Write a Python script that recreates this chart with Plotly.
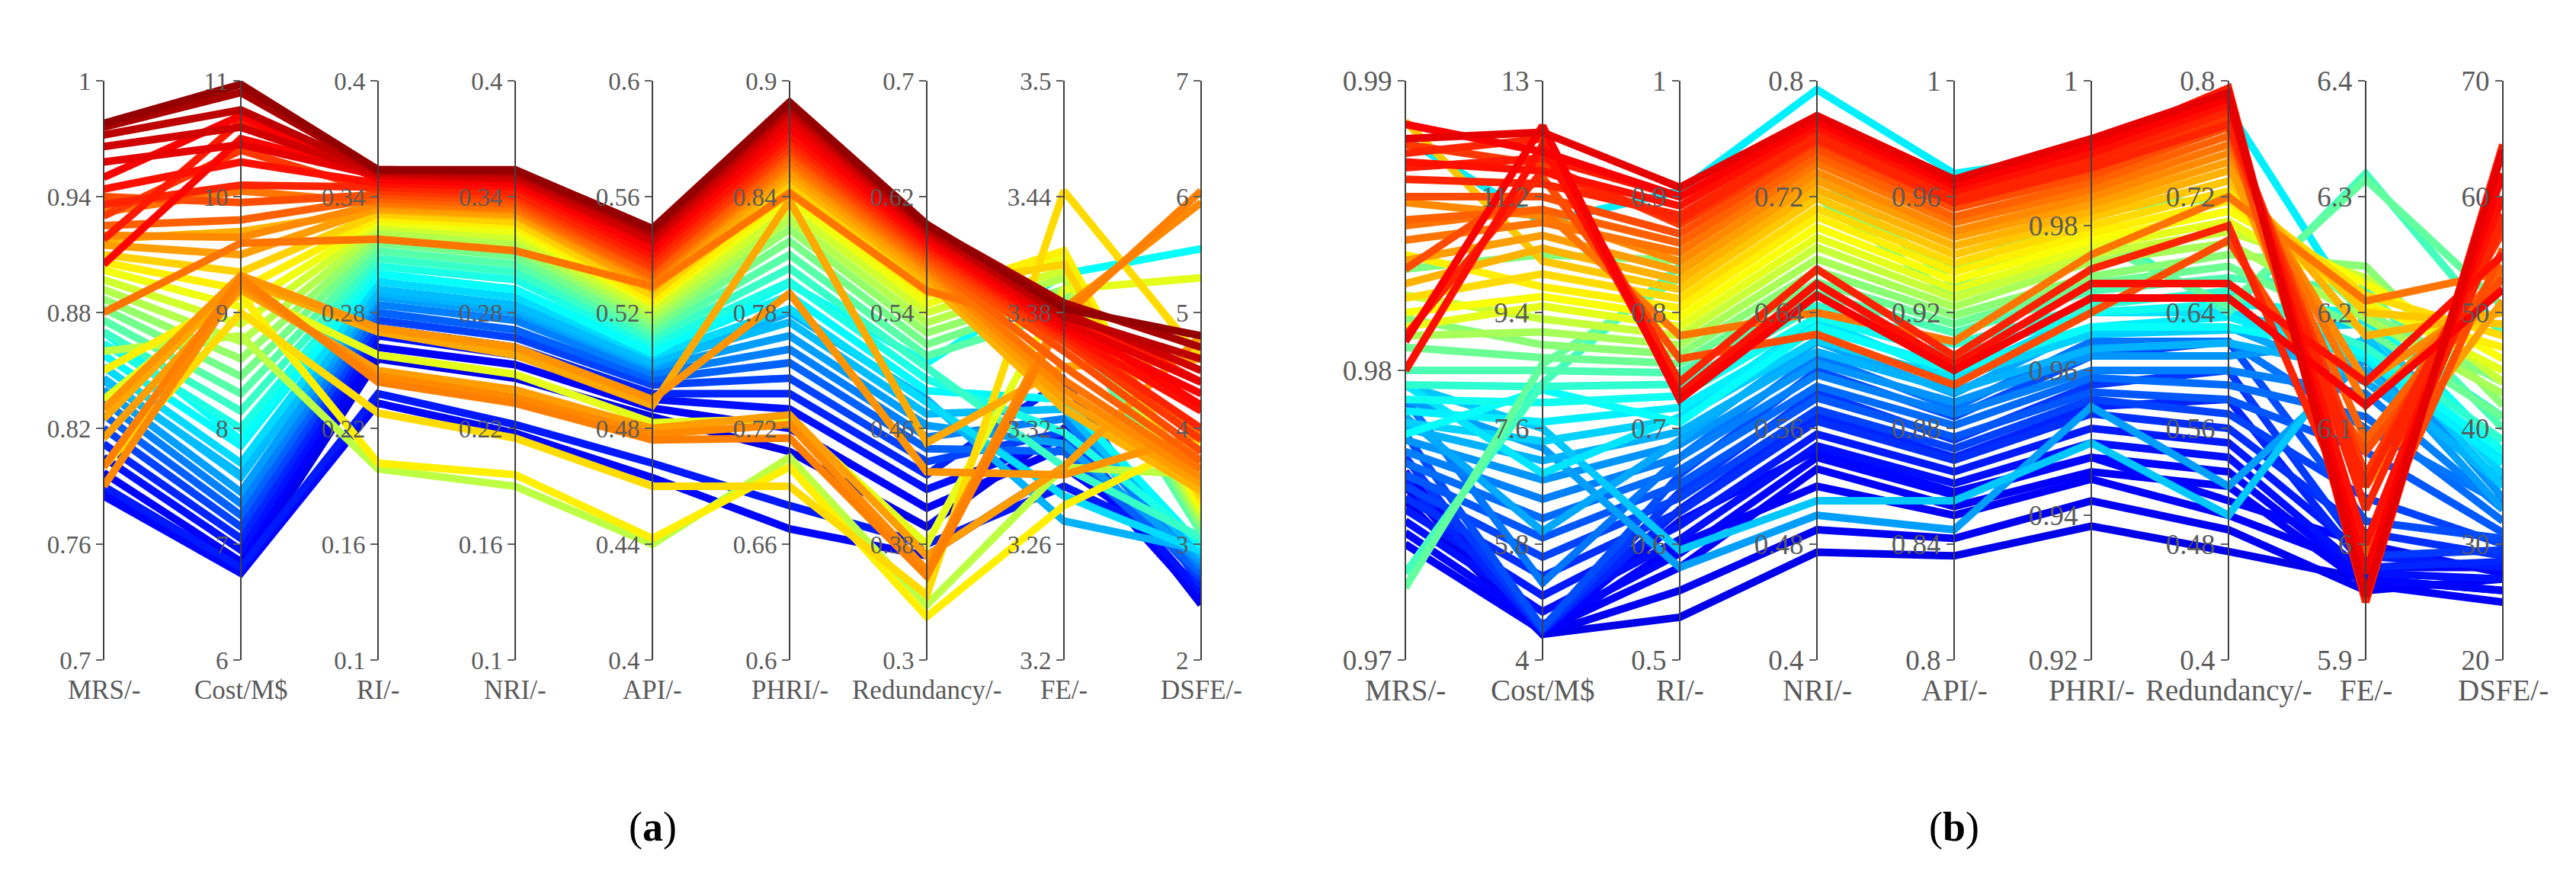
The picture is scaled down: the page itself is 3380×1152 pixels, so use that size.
import plotly.graph_objects as go
from plotly.colors import sample_colorscale

# ============================================================
# Parallel coordinates of the solution sets, panels (a) and (b)
# ============================================================

W, H = 3380, 1152

dims = ["MRS/-", "Cost/M$", "RI/-", "NRI/-", "API/-", "PHRI/-",
        "Redundancy/-", "FE/-", "DSFE/-"]

# ---------- panel (a): axis ranges and tick labels ----------
a_lo = [0.7, 6, 0.1, 0.1, 0.4, 0.6, 0.3, 3.2, 2]
a_hi = [1.0, 11, 0.4, 0.4, 0.6, 0.9, 0.7, 3.5, 7]
a_ticks = [
    ["0.7", "0.76", "0.82", "0.88", "0.94", "1"],
    ["6", "7", "8", "9", "10", "11"],
    ["0.1", "0.16", "0.22", "0.28", "0.34", "0.4"],
    ["0.1", "0.16", "0.22", "0.28", "0.34", "0.4"],
    ["0.4", "0.44", "0.48", "0.52", "0.56", "0.6"],
    ["0.6", "0.66", "0.72", "0.78", "0.84", "0.9"],
    ["0.3", "0.38", "0.46", "0.54", "0.62", "0.7"],
    ["3.2", "3.26", "3.32", "3.38", "3.44", "3.5"],
    ["2", "3", "4", "5", "6", "7"],
]

# ---------- panel (a): lines (colour value + one value per axis) ----------
a_color = [0.98, 0.96, 0.94, 0.92, 0.90, 0.88, 0.86, 0.84, 0.82, 0.80, 0.78, 0.76,
           0.74, 0.72, 0.70, 0.67, 0.64, 0.61, 0.58, 0.55, 0.52, 0.49, 0.46, 0.43,
           0.40, 0.37, 0.34, 0.31, 0.28, 0.25, 0.22, 0.19, 0.16, 0.14, 0.12, 0.10,
           0.74, 0.75, 0.72, 0.73, 0.71, 0.66, 0.64, 0.56, 0.13, 0.15, 0.30, 0.38,
           0.60, 0.87, 0.85, 0.76]
a_mrs = [0.978, 0.976, 0.972, 0.966, 0.958, 0.950, 0.944, 0.936, 0.930, 0.940, 0.925, 0.932,
         0.920, 0.915, 0.918, 0.910, 0.906, 0.902, 0.897, 0.892, 0.887, 0.882, 0.876, 0.870,
         0.864, 0.858, 0.852, 0.846, 0.840, 0.834, 0.827, 0.820, 0.812, 0.805, 0.797, 0.787,
         0.790, 0.800, 0.815, 0.830, 0.825, 0.800, 0.850, 0.860, 0.785, 0.790, 0.845, 0.870,
         0.835, 0.905, 0.918, 0.880]
a_cost = [10.97, 10.90, 10.75, 10.60, 10.45, 10.70, 10.30, 10.10, 10.40, 9.95, 9.80, 10.05,
          9.65, 9.50, 9.70, 9.35, 9.20, 9.05, 8.90, 8.75, 8.60, 8.45, 8.30, 8.15,
          8.00, 7.85, 7.70, 7.58, 7.45, 7.35, 7.25, 7.15, 7.05, 6.95, 6.85, 6.78,
          9.25, 9.30, 9.20, 9.32, 9.28, 9.00, 9.15, 8.80, 6.75, 6.80, 7.60, 7.90,
          9.20, 10.50, 10.65, 9.60]
a_ri = [0.354, 0.354, 0.353, 0.352, 0.351, 0.349, 0.347, 0.345, 0.343, 0.341, 0.339, 0.337,
        0.336, 0.334, 0.333, 0.331, 0.329, 0.327, 0.325, 0.322, 0.319, 0.316, 0.312, 0.308,
        0.304, 0.300, 0.296, 0.292, 0.288, 0.284, 0.280, 0.276, 0.272, 0.268, 0.262, 0.256,
        0.247, 0.244, 0.250, 0.272, 0.270, 0.228, 0.202, 0.199, 0.233, 0.238, 0.290, 0.300,
        0.258, 0.352, 0.351, 0.318]
a_nri = [0.354, 0.353, 0.352, 0.350, 0.349, 0.347, 0.345, 0.342, 0.340, 0.338, 0.336, 0.334,
         0.333, 0.331, 0.330, 0.327, 0.325, 0.322, 0.319, 0.316, 0.313, 0.309, 0.305, 0.301,
         0.297, 0.292, 0.288, 0.284, 0.280, 0.276, 0.271, 0.267, 0.262, 0.258, 0.253, 0.246,
         0.236, 0.233, 0.240, 0.262, 0.258, 0.215, 0.196, 0.190, 0.2175, 0.222, 0.282, 0.292,
         0.248, 0.351, 0.350, 0.312]
a_api = [0.549, 0.548, 0.547, 0.545, 0.544, 0.542, 0.540, 0.538, 0.536, 0.535, 0.533, 0.532,
         0.531, 0.529, 0.528, 0.526, 0.524, 0.523, 0.521, 0.519, 0.517, 0.515, 0.513, 0.511,
         0.509, 0.507, 0.505, 0.503, 0.501, 0.499, 0.497, 0.495, 0.492, 0.490, 0.487, 0.484,
         0.478, 0.476, 0.480, 0.490, 0.488, 0.460, 0.442, 0.440, 0.463, 0.468, 0.502, 0.506,
         0.482, 0.546, 0.545, 0.529]
a_phri = [0.889, 0.888, 0.886, 0.884, 0.880, 0.876, 0.872, 0.869, 0.866, 0.864, 0.861, 0.858,
          0.856, 0.853, 0.850, 0.846, 0.842, 0.838, 0.833, 0.828, 0.823, 0.817, 0.810, 0.803,
          0.796, 0.789, 0.782, 0.775, 0.768, 0.761, 0.754, 0.746, 0.738, 0.730, 0.720, 0.708,
          0.722, 0.715, 0.727, 0.790, 0.838, 0.690, 0.700, 0.705, 0.668, 0.680, 0.780, 0.795,
          0.725, 0.882, 0.879, 0.842]
a_red = [0.601, 0.600, 0.598, 0.596, 0.594, 0.591, 0.588, 0.585, 0.582, 0.579, 0.576, 0.573,
         0.570, 0.566, 0.562, 0.557, 0.552, 0.546, 0.540, 0.533, 0.526, 0.518, 0.510, 0.502,
         0.494, 0.486, 0.478, 0.470, 0.462, 0.454, 0.446, 0.437, 0.428, 0.418, 0.405, 0.392,
         0.362, 0.358, 0.372, 0.430, 0.450, 0.345, 0.330, 0.338, 0.372, 0.380, 0.480, 0.505,
         0.380, 0.597, 0.594, 0.555]
a_fe = [3.382, 3.385, 3.378, 3.380, 3.375, 3.372, 3.370, 3.368, 3.365, 3.360, 3.352, 3.345,
        3.340, 3.335, 3.330, 3.405, 3.412, 3.408, 3.402, 3.398, 3.392, 3.388, 3.380, 3.300,
        3.318, 3.335, 3.285, 3.330, 3.312, 3.325, 3.308, 3.318, 3.345, 3.315, 3.310, 3.320,
        3.382, 3.378, 3.300, 3.296, 3.352, 3.443, 3.280, 3.300, 3.300, 3.290, 3.272, 3.400,
        3.392, 3.376, 3.380, 3.372]
a_dsfe = [4.80, 4.70, 4.60, 4.50, 4.40, 4.30, 4.15, 4.00, 3.90, 3.80, 3.72, 3.65,
          3.58, 3.52, 3.46, 3.40, 3.35, 3.30, 3.26, 3.22, 3.18, 3.14, 3.10, 3.06,
          3.02, 2.98, 2.94, 2.90, 2.85, 2.80, 2.75, 2.70, 2.64, 2.58, 2.52, 2.48,
          5.95, 6.05, 4.80, 3.95, 4.60, 4.60, 3.90, 3.60, 2.85, 2.95, 2.95, 5.55,
          5.30, 4.20, 4.40, 3.95]

# ---------- panel (b): axis ranges and tick labels ----------
b_lo = [0.97, 4, 0.5, 0.4, 0.8, 0.92, 0.4, 5.9, 20]
b_hi = [0.99, 13, 1.0, 0.8, 1.0, 1.0, 0.8, 6.4, 70]
b_tickvals = [
    [0.97, 0.98, 0.99],
    [4, 5.8, 7.6, 9.4, 11.2, 13],
    [0.5, 0.6, 0.7, 0.8, 0.9, 1.0],
    [0.4, 0.48, 0.56, 0.64, 0.72, 0.8],
    [0.8, 0.84, 0.88, 0.92, 0.96, 1.0],
    [0.92, 0.94, 0.96, 0.98, 1.0],
    [0.4, 0.48, 0.56, 0.64, 0.72, 0.8],
    [5.9, 6.0, 6.1, 6.2, 6.3, 6.4],
    [20, 30, 40, 50, 60, 70],
]
b_ticks = [
    ["0.97", "0.98", "0.99"],
    ["4", "5.8", "7.6", "9.4", "11.2", "13"],
    ["0.5", "0.6", "0.7", "0.8", "0.9", "1"],
    ["0.4", "0.48", "0.56", "0.64", "0.72", "0.8"],
    ["0.8", "0.84", "0.88", "0.92", "0.96", "1"],
    ["0.92", "0.94", "0.96", "0.98", "1"],
    ["0.4", "0.48", "0.56", "0.64", "0.72", "0.8"],
    ["5.9", "6", "6.1", "6.2", "6.3", "6.4"],
    ["20", "30", "40", "50", "60", "70"],
]

# ---------- panel (b): lines ----------
b_color = [0.90, 0.88, 0.86, 0.84, 0.82, 0.80, 0.78, 0.76, 0.74, 0.72, 0.70, 0.68,
           0.66, 0.64, 0.62, 0.60, 0.57, 0.54, 0.51, 0.48, 0.45, 0.42, 0.39, 0.36,
           0.33, 0.30, 0.27, 0.25, 0.23, 0.21, 0.19, 0.17, 0.15, 0.14, 0.13, 0.12,
           0.88, 0.86, 0.84, 0.80, 0.76, 0.44, 0.47, 0.36, 0.50, 0.28, 0.32, 0.10,
           0.11, 0.12, 0.13, 0.85, 0.84, 0.38,
           0.20, 0.18, 0.16, 0.24, 0.29, 0.35]
b_mrs = [0.9880, 0.9885, 0.9872, 0.9866, 0.9878, 0.9860, 0.9852, 0.9845, 0.9858, 0.9838, 0.9830, 0.9886,
         0.9825, 0.9840, 0.9820, 0.9815, 0.9826, 0.9812, 0.9818, 0.9808, 0.9800, 0.9795, 0.9790, 0.9786,
         0.9782, 0.9780, 0.9776, 0.9772, 0.9768, 0.9764, 0.9760, 0.9756, 0.9752, 0.9748, 0.9744, 0.9740,
         0.9810, 0.9800, 0.9875, 0.9835, 0.9850, 0.9730, 0.9725, 0.9880, 0.9835, 0.9790, 0.9795, 0.9755,
         0.9760, 0.9765, 0.9770, 0.9870, 0.9812, 0.9778,
         0.9778, 0.9770, 0.9762, 0.9790, 0.9784, 0.9795]
b_cost = [12.20, 11.90, 11.60, 11.40, 11.70, 11.20, 11.00, 10.80, 10.90, 10.60, 10.40, 10.20,
          10.00, 9.80, 9.65, 9.50, 9.30, 9.10, 8.90, 8.70, 8.50, 8.25, 8.00, 7.70,
          7.40, 7.10, 6.80, 6.50, 6.20, 5.90, 5.60, 5.30, 5.00, 4.75, 4.55, 4.45,
          12.30, 12.00, 12.10, 11.50, 11.00, 8.30, 8.60, 10.80, 10.30, 7.30, 7.60, 4.40,
          4.40, 4.42, 4.43, 11.80, 11.60, 8.20,
          4.50, 4.48, 4.46, 5.20, 6.00, 6.90]
b_ri = [0.908, 0.900, 0.892, 0.884, 0.876, 0.868, 0.860, 0.852, 0.844, 0.836, 0.828, 0.820,
        0.812, 0.804, 0.796, 0.788, 0.780, 0.772, 0.764, 0.756, 0.748, 0.738, 0.728, 0.718,
        0.708, 0.697, 0.686, 0.675, 0.664, 0.652, 0.640, 0.628, 0.616, 0.604, 0.592, 0.580,
        0.725, 0.730, 0.740, 0.760, 0.780, 0.840, 0.830, 0.905, 0.845, 0.580, 0.595, 0.537,
        0.560, 0.600, 0.620, 0.900, 0.880, 0.705,
        0.660, 0.645, 0.630, 0.675, 0.690, 0.710]
b_nri = [0.776, 0.772, 0.768, 0.763, 0.758, 0.753, 0.748, 0.743, 0.737, 0.731, 0.725, 0.719,
         0.712, 0.706, 0.699, 0.692, 0.685, 0.677, 0.669, 0.661, 0.653, 0.645, 0.637, 0.629,
         0.621, 0.613, 0.605, 0.597, 0.589, 0.581, 0.573, 0.565, 0.556, 0.548, 0.540, 0.532,
         0.652, 0.660, 0.670, 0.625, 0.640, 0.735, 0.720, 0.794, 0.720, 0.500, 0.510, 0.4745,
         0.490, 0.520, 0.545, 0.770, 0.760, 0.630,
         0.600, 0.585, 0.570, 0.610, 0.620, 0.635]
b_api = [0.966, 0.964, 0.962, 0.960, 0.958, 0.956, 0.953, 0.951, 0.948, 0.946, 0.943, 0.940,
         0.937, 0.934, 0.931, 0.928, 0.925, 0.922, 0.919, 0.916, 0.913, 0.909, 0.905, 0.901,
         0.897, 0.893, 0.889, 0.885, 0.881, 0.877, 0.873, 0.869, 0.865, 0.861, 0.857, 0.853,
         0.900, 0.902, 0.905, 0.895, 0.910, 0.930, 0.925, 0.968, 0.935, 0.845, 0.855, 0.836,
         0.842, 0.850, 0.858, 0.964, 0.958, 0.900,
         0.884, 0.876, 0.870, 0.887, 0.892, 0.898]
b_phri = [0.992, 0.991, 0.990, 0.989, 0.988, 0.987, 0.986, 0.985, 0.984, 0.983, 0.982, 0.981,
          0.980, 0.979, 0.978, 0.977, 0.976, 0.975, 0.973, 0.972, 0.971, 0.969, 0.968, 0.966,
          0.965, 0.963, 0.962, 0.960, 0.959, 0.957, 0.956, 0.954, 0.952, 0.950, 0.948, 0.946,
          0.970, 0.972, 0.974, 0.968, 0.976, 0.980, 0.978, 0.990, 0.982, 0.955, 0.950, 0.9385,
          0.942, 0.945, 0.948, 0.991, 0.988, 0.966,
          0.962, 0.958, 0.955, 0.964, 0.966, 0.968]
b_red = [0.792, 0.788, 0.784, 0.779, 0.774, 0.768, 0.762, 0.756, 0.750, 0.744, 0.738, 0.731,
         0.724, 0.717, 0.710, 0.703, 0.696, 0.688, 0.680, 0.672, 0.664, 0.655, 0.646, 0.637,
         0.628, 0.619, 0.610, 0.600, 0.590, 0.580, 0.570, 0.560, 0.550, 0.540, 0.530, 0.520,
         0.650, 0.660, 0.700, 0.690, 0.720, 0.640, 0.645, 0.780, 0.720, 0.520, 0.500, 0.475,
         0.490, 0.500, 0.510, 0.795, 0.770, 0.630,
         0.620, 0.600, 0.580, 0.620, 0.630, 0.640]
b_fe = [5.955, 5.975, 6.000, 6.030, 6.060, 5.990, 6.090, 6.120, 6.140, 6.050, 6.180, 6.200,
        6.215, 6.205, 6.225, 6.210, 6.230, 6.195, 6.240, 6.185, 6.220, 6.170, 6.200, 6.160,
        6.190, 6.150, 6.175, 6.130, 6.110, 6.080, 6.040, 6.010, 5.990, 5.975, 5.970, 5.965,
        6.120, 6.140, 6.000, 6.080, 6.210, 6.320, 6.315, 6.190, 6.200, 6.160, 6.180, 5.970,
        5.960, 5.980, 6.000, 5.950, 6.050, 6.165,
        6.020, 5.990, 5.980, 6.100, 6.140, 6.170]
b_dsfe = [64, 62, 60, 58.5, 57, 55.5, 54, 53, 52, 51, 50, 49,
          48, 47, 46, 45, 44, 43, 42, 41, 40, 39, 38, 37,
          36, 35, 34, 33, 32, 31, 30, 29, 28, 27, 26, 25,
          52, 55, 58, 53, 53.5, 48, 50.5, 41, 44, 33, 35, 26,
          27, 28, 27.5, 64.5, 58, 38,
          30.5, 29.5, 28.5, 33.5, 35.5, 37.5]

# jet colour map (MATLAB style)
JET = [[0.0, "rgb(0,0,143)"], [0.125, "rgb(0,0,255)"], [0.375, "rgb(0,255,255)"],
       [0.625, "rgb(255,255,0)"], [0.875, "rgb(255,0,0)"], [1.0, "rgb(128,0,0)"]]

LW = 10
FONT = "Liberation Serif"
GREY = "#5a5a5a"

# pixel x of each axis, and the plot's vertical extent
A_PX = [128, 308, 488, 668, 848, 1028, 1208, 1388, 1568]
B_PX = [1836, 2016, 2196, 2376, 2556, 2736, 2916, 3096, 3276]
Y_TOP, Y_BOT = 81, 869
ydom = [(H - Y_BOT) / H, (H - Y_TOP) / H]

panels = [
    dict(cols=[a_mrs, a_cost, a_ri, a_nri, a_api, a_phri, a_red, a_fe, a_dsfe],
         c=a_color, lo=a_lo, hi=a_hi, ticks=a_ticks, tickvals=None,
         xa="x", base="y", first=2, px=A_PX, fs=33, ts=35, tag="a"),
    dict(cols=[b_mrs, b_cost, b_ri, b_nri, b_api, b_phri, b_red, b_fe, b_dsfe],
         c=b_color, lo=b_lo, hi=b_hi, ticks=b_ticks, tickvals=b_tickvals,
         xa="x2", base="y11", first=12, px=B_PX, fs=37, ts=39, tag="b"),
]

fig = go.Figure()
axes = {}
notes = []

for p in panels:
    colors = sample_colorscale(JET, p["c"])
    order = sorted(range(len(p["c"])), key=lambda i: p["c"][i])
    for i in order:
        ys = [(p["cols"][k][i] - p["lo"][k]) / (p["hi"][k] - p["lo"][k]) for k in range(9)]
        fig.add_trace(go.Scatter(
            x=list(range(9)), y=ys, mode="lines",
            line=dict(color=colors[i], width=LW),
            xaxis=p["xa"], yaxis=p["base"], hoverinfo="skip", showlegend=False,
        ))

    # one visible axis per dimension, overlaid on the hidden 0..1 base axis
    for k in range(9):
        n = p["first"] + k
        if p["tickvals"] is None:
            step = (p["hi"][k] - p["lo"][k]) / 5
            tv = [p["lo"][k] + j * step for j in range(6)]
        else:
            tv = p["tickvals"][k]
        axes[f"yaxis{n}"] = dict(
            overlaying=p["base"], anchor="free", position=p["px"][k] / W, side="left",
            range=[p["lo"][k], p["hi"][k]], tickmode="array", tickvals=tv, ticktext=p["ticks"][k],
            showline=True, linecolor="#404040", linewidth=2,
            ticks="outside", ticklen=9, tickwidth=2, tickcolor="#606060",
            showgrid=False, zeroline=False, fixedrange=True,
            tickfont=dict(family=FONT, size=p["fs"], color=GREY),
        )
        fig.add_trace(go.Scatter(
            x=[0], y=[p["lo"][k]], mode="markers", marker=dict(opacity=0),
            xaxis=p["xa"], yaxis=f"y{n}", hoverinfo="skip", showlegend=False,
        ))
        notes.append(dict(
            x=p["px"][k] / W, y=(H - 910) / H, xref="paper", yref="paper",
            text=dims[k], showarrow=False, xanchor="center", yanchor="middle",
            font=dict(family=FONT, size=p["ts"], color=GREY),
        ))

    notes.append(dict(
        x=(p["px"][0] + p["px"][-1]) / 2 / W, y=(H - 1096) / H, xref="paper", yref="paper",
        text=f"(<b>{p['tag']}</b>)", showarrow=False, xanchor="center", yanchor="middle",
        font=dict(family=FONT, size=54, color="black"),
    ))

fig.update_layout(
    width=W, height=H,
    margin=dict(l=0, r=0, t=0, b=0),
    paper_bgcolor="white", plot_bgcolor="rgba(0,0,0,0)",
    showlegend=False,
    xaxis=dict(domain=[A_PX[0] / W, A_PX[-1] / W], range=[0, 8], visible=False,
               anchor="y", fixedrange=True),
    xaxis2=dict(domain=[B_PX[0] / W, B_PX[-1] / W], range=[0, 8], visible=False,
                anchor="y11", fixedrange=True),
    yaxis=dict(domain=ydom, range=[0, 1], visible=False, anchor="x", fixedrange=True),
    yaxis11=dict(domain=ydom, range=[0, 1], visible=False, anchor="x2", fixedrange=True),
    annotations=notes,
    **axes,
)

fig.write_html("out.html")
